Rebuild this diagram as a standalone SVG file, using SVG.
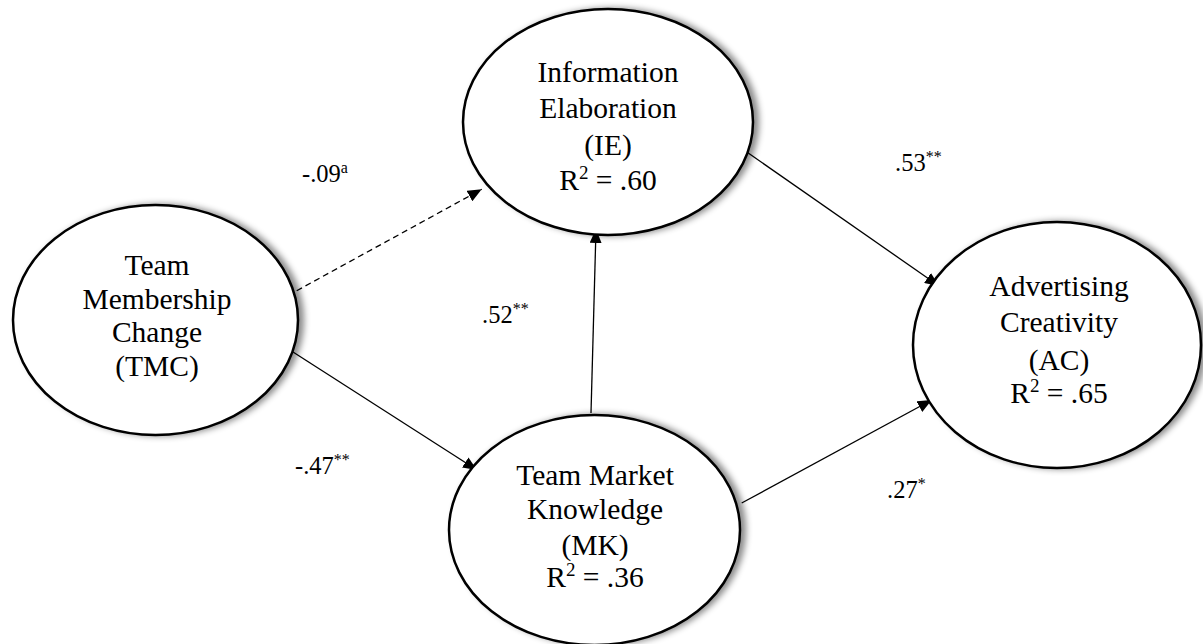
<svg xmlns="http://www.w3.org/2000/svg" width="1203" height="644" viewBox="0 0 1203 644" font-family="'Liberation Serif', 'Times New Roman', Tinos, 'DejaVu Serif', serif">
  <style>
    .node ellipse { fill: #ffffff; stroke: #000000; stroke-width: 2.5; filter: url(#shade); }
    .node text { font-family: 'Liberation Serif', 'Times New Roman', Tinos, 'DejaVu Serif', serif; font-size: 29.5px; fill: #000000; text-anchor: middle; }
    .edge { fill: none; stroke: #000000; stroke-width: 1.3; marker-end: url(#arrow); }
    .dashed { stroke-dasharray: 6 4; }
    .lbl { font-family: 'Liberation Serif', 'Times New Roman', Tinos, 'DejaVu Serif', serif; font-size: 24.5px; fill: #000000; }
    .sup { font-size: 16px; }
  </style>
  <defs>
    <filter id="shade" x="-10%" y="-10%" width="125%" height="125%">
      <feDropShadow dx="5" dy="0" stdDeviation="3" flood-color="#000000" flood-opacity="0.45"/>
    </filter>
    <marker id="arrow" viewBox="0 0 14 12" refX="14" refY="6" markerWidth="14" markerHeight="12" markerUnits="userSpaceOnUse" orient="auto">
      <path d="M0,0 L14,6 L0,12 z" fill="#000000" stroke="none"/>
    </marker>
  </defs>

  <rect width="1203" height="644" fill="#ffffff"/>

  <!-- path connectors -->
  <g id="connectors">
    <path class="edge dashed" d="M296.7,290.7 L481.7,189.3"/>
    <path class="edge" d="M293,352 L477,470"/>
    <path class="edge" d="M591,413 L596,229"/>
    <path class="edge" d="M747.5,152.5 L939,286"/>
    <path class="edge" d="M741.7,503 L931.7,400"/>
  </g>

  <!-- path coefficients -->
  <g id="labels">
    <text class="lbl" x="302" y="182">-.09<tspan class="sup" dy="-9">a</tspan></text>
    <text class="lbl" x="482" y="323">.52<tspan class="sup" dy="-9">**</tspan></text>
    <text class="lbl" x="295" y="474">-.47<tspan class="sup" dy="-9">**</tspan></text>
    <text class="lbl" x="895" y="171">.53<tspan class="sup" dy="-9">**</tspan></text>
    <text class="lbl" x="887" y="498">.27<tspan class="sup" dy="-9">*</tspan></text>
  </g>

  <g id="node-tmc" class="node">
    <ellipse cx="155.5" cy="320" rx="142.5" ry="115"/>
    <text x="157" y="275">Team</text>
    <text x="157" y="308.5">Membership</text>
    <text x="157" y="342">Change</text>
    <text x="157" y="375.5">(TMC)</text>
  </g>

  <g id="node-ie" class="node">
    <ellipse cx="608" cy="122" rx="145" ry="113"/>
    <text x="608" y="82">Information</text>
    <text x="608" y="118">Elaboration</text>
    <text x="608" y="155">(IE)</text>
    <text x="608" y="190">R<tspan font-size="19" dy="-11">2</tspan><tspan dy="11"> = .60</tspan></text>
  </g>

  <g id="node-mk" class="node">
    <ellipse cx="594.5" cy="530" rx="145.5" ry="115"/>
    <text x="595" y="485">Team Market</text>
    <text x="595" y="519">Knowledge</text>
    <text x="595" y="555">(MK)</text>
    <text x="595" y="587">R<tspan font-size="19" dy="-11">2</tspan><tspan dy="11"> = .36</tspan></text>
  </g>

  <g id="node-ac" class="node">
    <ellipse cx="1057" cy="345" rx="144" ry="123"/>
    <text x="1059" y="296">Advertising</text>
    <text x="1059" y="332">Creativity</text>
    <text x="1059" y="370">(AC)</text>
    <text x="1059" y="403">R<tspan font-size="19" dy="-11">2</tspan><tspan dy="11"> = .65</tspan></text>
  </g>
</svg>
